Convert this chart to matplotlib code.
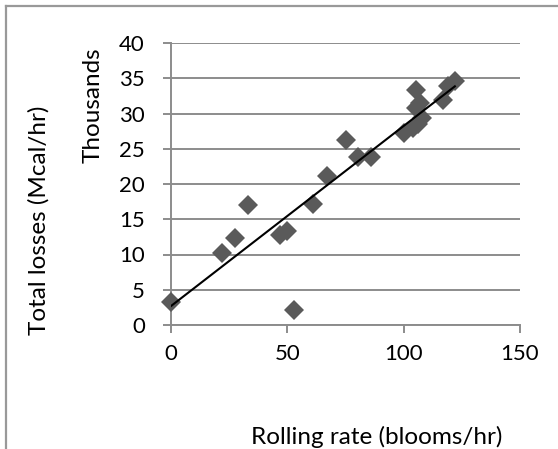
import numpy as np
import matplotlib
matplotlib.use("Agg")
import matplotlib.pyplot as plt
from matplotlib.lines import Line2D

plt.rcParams['font.family'] = ['Lato', 'DejaVu Sans']

# Rolling rate (blooms/hr) and total losses (Mcal/hr)
rolling_rate = [0, 22, 27.5, 33, 47, 50, 53, 61, 67, 75, 80.5, 86,
                100, 104, 106, 108, 105.5, 107, 105.5, 117, 119, 122]
total_losses = [3300, 10200, 12300, 17000, 12800, 13400, 2100, 17200,
                21200, 26300, 23800, 23800, 27200, 28000, 28500, 29300,
                30800, 31500, 33300, 31900, 33900, 34600]

x_ticks = [0, 50, 100, 150]
y_ticks = [0, 5, 10, 15, 20, 25, 30, 35, 40]

x = np.array(rolling_rate, dtype=float)
y = np.array(total_losses, dtype=float) / 1000.0  # shown in thousands

W, H = 558, 449
PX = 72 / 100  # points per pixel at 100 dpi
fig = plt.figure(figsize=(W / 100, H / 100), dpi=100)
ax = fig.add_axes([171 / W, 1 - 325 / H, (520 - 171) / W, (325 - 43) / H])

grid_c = '#8c8c8c'
ax.set_xlim(0, 150)
ax.set_ylim(0, 40)
ax.set_xticks(x_ticks)
ax.set_yticks(y_ticks)
ax.grid(axis='y', color=grid_c, linewidth=1.4)
ax.set_axisbelow(True)
for s in ['top', 'right']:
    ax.spines[s].set_visible(False)
for s in ['left', 'bottom']:
    ax.spines[s].set_color(grid_c)
    ax.spines[s].set_linewidth(1.4)
ax.tick_params(axis='both', direction='out', length=8 * PX, width=1.4,
               color=grid_c, labelsize=16, labelcolor='black')
ax.tick_params(axis='y', pad=18 * PX)
ax.tick_params(axis='x', pad=11 * PX)

ax.plot(x, y, linestyle='none', marker='D', markersize=10.5,
        color='#5a5a5a', markeredgewidth=0, clip_on=False, zorder=3)

# Linear trend line
slope, intercept = np.polyfit(x, y, 1)
xt = np.array([x.min(), x.max()])
ax.plot(xt, intercept + slope * xt, color='black', linewidth=1.5, zorder=4)

fig.text(377 / W, 1 - 437 / H, 'Rolling rate (blooms/hr)', ha='center',
         va='center', fontsize=17.5)
fig.text(39 / W, 1 - 220 / H, 'Total losses (Mcal/hr)', ha='center',
         va='center', rotation=90, fontsize=17.5)
fig.text(93 / W, 1 - 105 / H, 'Thousands', ha='center', va='center',
         rotation=90, fontsize=17.5)

# Outer frame lines on the left and top
fig.add_artist(Line2D([5.5 / W, 5.5 / W], [0, 1 - 5.5 / H],
                      transform=fig.transFigure, color='#999999', linewidth=1.6))
fig.add_artist(Line2D([5.5 / W, 1], [1 - 5.5 / H, 1 - 5.5 / H],
                      transform=fig.transFigure, color='#999999', linewidth=1.6))

fig.savefig('out.png', dpi=100)
